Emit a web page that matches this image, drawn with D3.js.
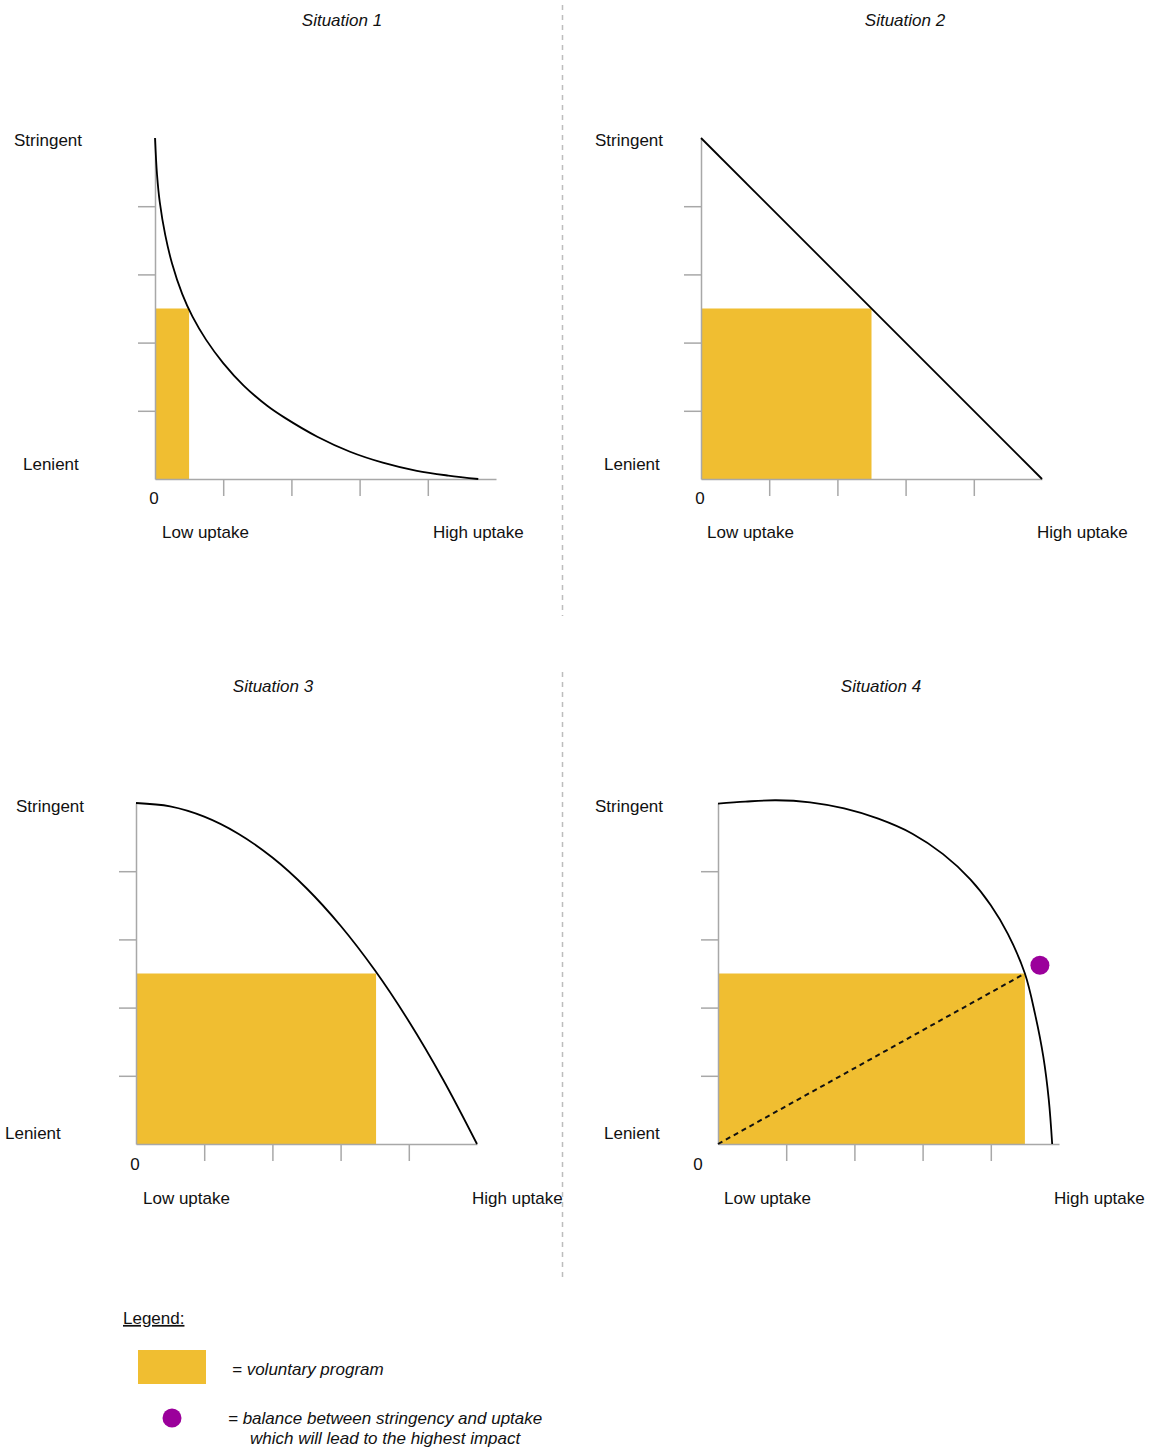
<!DOCTYPE html>
<html>
<head>
<meta charset="utf-8">
<script src="https://cdn.jsdelivr.net/npm/d3@7"></script>
<style>
  body { margin: 0; background: #fff; }
  svg { display: block; }
  text { font-family: "Liberation Sans", Arial, Helvetica, sans-serif; fill: #111; }
</style>
</head>
<body>
<svg id="chart" width="1152" height="1450"></svg>
<script>
// ---------- DATA ----------
const situations = ["Situation 1", "Situation 2", "Situation 3", "Situation 4"];
const yLabels = ["Stringent", "Lenient"];
const xLabels = ["Low uptake", "High uptake"];
const originLabel = "0";
const tickValues = [1, 2, 3, 4];
const axisMax = 5;

// curves: [uptake, stringency]
const curve1 = [[0, 5], [0.03, 4.46], [0.07, 4.06], [0.15, 3.58], [0.25, 3.16], [0.4, 2.71], [0.55, 2.38], [0.75, 2.04], [1.0, 1.7], [1.3, 1.37], [1.65, 1.07], [1.9, 0.9], [2.38, 0.62], [2.86, 0.4], [3.34, 0.24], [3.84, 0.12], [4.3, 0.05], [4.74, 0]];
const curve2 = [[0, 5], [5, 0]];
const curve3 = [[0, 5], [0.5, 4.95], [1, 4.8], [1.5, 4.55], [2, 4.2], [2.5, 3.75], [3, 3.2], [3.5, 2.55], [4, 1.8], [4.5, 0.95], [5, 0]];
const curve4 = [[0, 4.99], [0.4, 5.02], [0.85, 5.04], [1.35, 5.01], [1.85, 4.92], [2.35, 4.77], [2.85, 4.55], [3.3, 4.25], [3.7, 3.88], [4.0, 3.5], [4.25, 3.08], [4.5, 2.5], [4.65, 1.9], [4.77, 1.28], [4.85, 0.65], [4.9, 0]];
const curves = [curve1, curve2, curve3, curve4];

// voluntary program (rectangle) extents
const programUptake = [0.5, 2.5, 3.52, 4.5];
const programStringency = [2.5, 2.5, 2.5, 2.5];

// balance point (situation 4 only)
const balancePoint = [4.72, 2.62];
const diagonalFrom = [0, 0];
const diagonalTo = [4.5, 2.5];

const legendTitle = "Legend:";
const legendProgram = "= voluntary program";
const legendBalance = ["= balance between stringency and uptake", "which will lead to the highest impact"];

// ---------- LAYOUT ----------
const colors = { program: "#F0BE31", dot: "#9B009B", axis: "#A8A8A8", divider: "#BDBDBD", curve: "#000" };
const size = 341;
const fontSize = 17;
const panels = [
  { ox: 155, oy: 479, titleX: 342, titleY: 20, strX: 14, lenX: 23, lenDy: -15, dy: 0, zeroX: 154, lowX: 162, highX: 433 },
  { ox: 701, oy: 479, titleX: 905, titleY: 20, strX: 595, lenX: 604, lenDy: -15, dy: 0, zeroX: 700, lowX: 707, highX: 1037 },
  { ox: 136, oy: 1144, titleX: 273, titleY: 686, strX: 16, lenX: 5, lenDy: -11, dy: 1, zeroX: 135, lowX: 143, highX: 472 },
  { ox: 718, oy: 1144, titleX: 881, titleY: 686, strX: 595, lenX: 604, lenDy: -11, dy: 1, zeroX: 698, lowX: 724, highX: 1054 }
];

const svg = d3.select("#chart");

// dividers
svg.append("line").attr("x1", 562.5).attr("x2", 562.5).attr("y1", 5).attr("y2", 616)
  .attr("stroke", colors.divider).attr("stroke-width", 1.5).attr("stroke-dasharray", "5,5");
svg.append("line").attr("x1", 562.5).attr("x2", 562.5).attr("y1", 672).attr("y2", 1282)
  .attr("stroke", colors.divider).attr("stroke-width", 1.5).attr("stroke-dasharray", "5,5");

panels.forEach((p, i) => {
  const x = d3.scaleLinear().domain([0, axisMax]).range([p.ox, p.ox + size]);
  const y = d3.scaleLinear().domain([0, axisMax]).range([p.oy, p.oy - size]);
  const g = svg.append("g");

  // program rectangle
  g.append("rect")
    .attr("x", x(0)).attr("y", y(programStringency[i]))
    .attr("width", x(programUptake[i]) - x(0))
    .attr("height", y(0) - y(programStringency[i]))
    .attr("fill", colors.program);

  // axes
  const ax = g.append("g").attr("transform", `translate(0,${p.oy})`)
    .call(d3.axisBottom(x).tickValues(tickValues).tickSize(17).tickSizeOuter(0).tickFormat(""));
  const ay = g.append("g").attr("transform", `translate(${p.ox},0)`)
    .call(d3.axisLeft(y).tickValues(tickValues).tickSize(17).tickSizeOuter(0).tickFormat(""));
  [ax, ay].forEach(a => {
    a.selectAll("path, line").attr("stroke", colors.axis).attr("stroke-width", 1.5);
  });

  // curve
  const line = d3.line().x(d => x(d[0])).y(d => y(d[1]))
    .curve(i === 1 ? d3.curveLinear : d3.curveCatmullRom.alpha(0.5));
  g.append("path").datum(curves[i]).attr("d", line)
    .attr("fill", "none").attr("stroke", colors.curve).attr("stroke-width", 1.8);

  if (i === 3) {
    g.append("line")
      .attr("x1", x(diagonalFrom[0])).attr("y1", y(diagonalFrom[1]))
      .attr("x2", x(diagonalTo[0])).attr("y2", y(diagonalTo[1]))
      .attr("stroke", "#111").attr("stroke-width", 2).attr("stroke-dasharray", "5,4");
    g.append("circle").attr("cx", x(balancePoint[0])).attr("cy", y(balancePoint[1]))
      .attr("r", 9.5).attr("fill", colors.dot);
  }

  // texts
  g.append("text").attr("x", p.titleX).attr("y", p.titleY).attr("dy", "0.35em")
    .attr("text-anchor", "middle").attr("font-style", "italic").attr("font-size", fontSize)
    .text(situations[i]);
  g.append("text").attr("x", p.strX).attr("y", y(axisMax) + 2 + p.dy).attr("dy", "0.35em")
    .attr("font-size", fontSize).text(yLabels[0]);
  g.append("text").attr("x", p.lenX).attr("y", p.oy + p.lenDy).attr("dy", "0.35em")
    .attr("font-size", fontSize).text(yLabels[1]);
  g.append("text").attr("x", p.zeroX).attr("y", p.oy + 19 + p.dy).attr("dy", "0.35em")
    .attr("text-anchor", "middle").attr("font-size", fontSize).text(originLabel);
  g.append("text").attr("x", p.lowX).attr("y", p.oy + 53 + p.dy).attr("dy", "0.35em")
    .attr("font-size", fontSize).text(xLabels[0]);
  g.append("text").attr("x", p.highX).attr("y", p.oy + 53 + p.dy).attr("dy", "0.35em")
    .attr("font-size", fontSize).text(xLabels[1]);
});

// legend
const lg = svg.append("g");
lg.append("text").attr("x", 123).attr("y", 1318).attr("dy", "0.35em")
  .attr("font-size", fontSize).attr("text-decoration", "underline").text(legendTitle);
lg.append("rect").attr("x", 138).attr("y", 1350).attr("width", 68).attr("height", 34).attr("fill", colors.program);
lg.append("text").attr("x", 232).attr("y", 1369).attr("dy", "0.35em")
  .attr("font-size", fontSize).attr("font-style", "italic").text(legendProgram);
lg.append("circle").attr("cx", 172).attr("cy", 1418).attr("r", 9.5).attr("fill", colors.dot);
lg.append("text").attr("x", 228).attr("y", 1418).attr("dy", "0.35em")
  .attr("font-size", fontSize).attr("font-style", "italic").text(legendBalance[0]);
lg.append("text").attr("x", 250).attr("y", 1438).attr("dy", "0.35em")
  .attr("font-size", fontSize).attr("font-style", "italic").text(legendBalance[1]);
</script>
</body>
</html>
